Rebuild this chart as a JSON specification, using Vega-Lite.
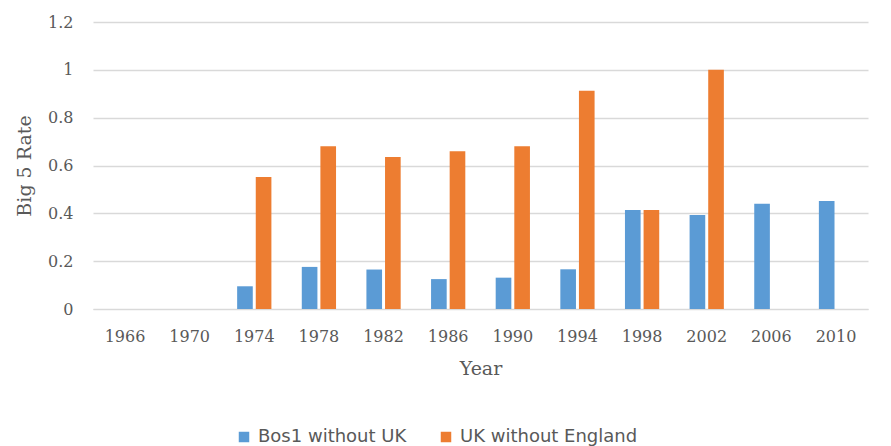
{
  "$schema": "https://vega.github.io/schema/vega-lite/v6.json",
  "autosize": {"type": "none"},
  "width": 775,
  "height": 287,
  "padding": {"left": 93, "top": 22, "right": 23, "bottom": 137},
  "background": "white",
  "config": {"view": {"stroke": null}},
  "data": {
    "values": [
      {"Year": "1974", "Series": "Bos1 without UK", "Rate": 0.095},
      {"Year": "1974", "Series": "UK without England", "Rate": 0.552},
      {"Year": "1978", "Series": "Bos1 without UK", "Rate": 0.176},
      {"Year": "1978", "Series": "UK without England", "Rate": 0.68},
      {"Year": "1982", "Series": "Bos1 without UK", "Rate": 0.165},
      {"Year": "1982", "Series": "UK without England", "Rate": 0.636},
      {"Year": "1986", "Series": "Bos1 without UK", "Rate": 0.125},
      {"Year": "1986", "Series": "UK without England", "Rate": 0.66},
      {"Year": "1990", "Series": "Bos1 without UK", "Rate": 0.131},
      {"Year": "1990", "Series": "UK without England", "Rate": 0.68},
      {"Year": "1994", "Series": "Bos1 without UK", "Rate": 0.166},
      {"Year": "1994", "Series": "UK without England", "Rate": 0.913},
      {"Year": "1998", "Series": "Bos1 without UK", "Rate": 0.414},
      {"Year": "1998", "Series": "UK without England", "Rate": 0.414},
      {"Year": "2002", "Series": "Bos1 without UK", "Rate": 0.393},
      {"Year": "2002", "Series": "UK without England", "Rate": 1.0},
      {"Year": "2006", "Series": "Bos1 without UK", "Rate": 0.44},
      {"Year": "2010", "Series": "Bos1 without UK", "Rate": 0.452}
    ]
  },
  "mark": {"type": "bar"},
  "encoding": {
    "x": {
      "field": "Year",
      "type": "nominal",
      "scale": {
        "domain": ["1966", "1970", "1974", "1978", "1982", "1986", "1990", "1994", "1998", "2002", "2006", "2010"],
        "paddingInner": 0.47,
        "paddingOuter": 0.23
      },
      "axis": {
        "title": "Year",
        "labelAngle": 0,
        "labelFont": "DejaVu Serif",
        "labelFontSize": 16,
        "labelColor": "#595959",
        "labelPadding": 19,
        "domain": true,
        "domainColor": "#d9d9d9",
        "ticks": false,
        "titleFont": "DejaVu Serif",
        "titleFontSize": 19,
        "titleFontWeight": "normal",
        "titleColor": "#595959",
        "titlePadding": 15
      }
    },
    "xOffset": {
      "field": "Series",
      "type": "nominal",
      "scale": {"domain": ["Bos1 without UK", "UK without England"], "paddingInner": 0.16}
    },
    "y": {
      "field": "Rate",
      "type": "quantitative",
      "scale": {"domain": [0, 1.2]},
      "axis": {
        "title": "Big 5 Rate",
        "values": [0, 0.2, 0.4, 0.6, 0.8, 1, 1.2],
        "labelExpr": "datum.value == 0 ? '0' : format(datum.value, '.1~f')",
        "labelFont": "DejaVu Serif",
        "labelFontSize": 16,
        "labelColor": "#595959",
        "labelPadding": 20,
        "domain": false,
        "ticks": false,
        "gridColor": "#d9d9d9",
        "gridWidth": 1.3,
        "titleFont": "DejaVu Serif",
        "titleFontSize": 19,
        "titleFontWeight": "normal",
        "titleColor": "#595959",
        "titlePadding": 13
      }
    },
    "color": {
      "field": "Series",
      "type": "nominal",
      "scale": {"domain": ["Bos1 without UK", "UK without England"], "range": ["#5B9BD5", "#ED7D31"]},
      "legend": {
        "title": null,
        "orient": "none",
        "legendX": 142,
        "legendY": 406,
        "direction": "horizontal",
        "columns": 2,
        "columnPadding": 30,
        "symbolType": "square",
        "symbolSize": 110,
        "symbolStrokeWidth": 0,
        "labelFont": "DejaVu Sans",
        "labelFontSize": 18,
        "labelLimit": 400,
        "labelColor": "#595959",
        "labelOffset": 5
      }
    }
  }
}
